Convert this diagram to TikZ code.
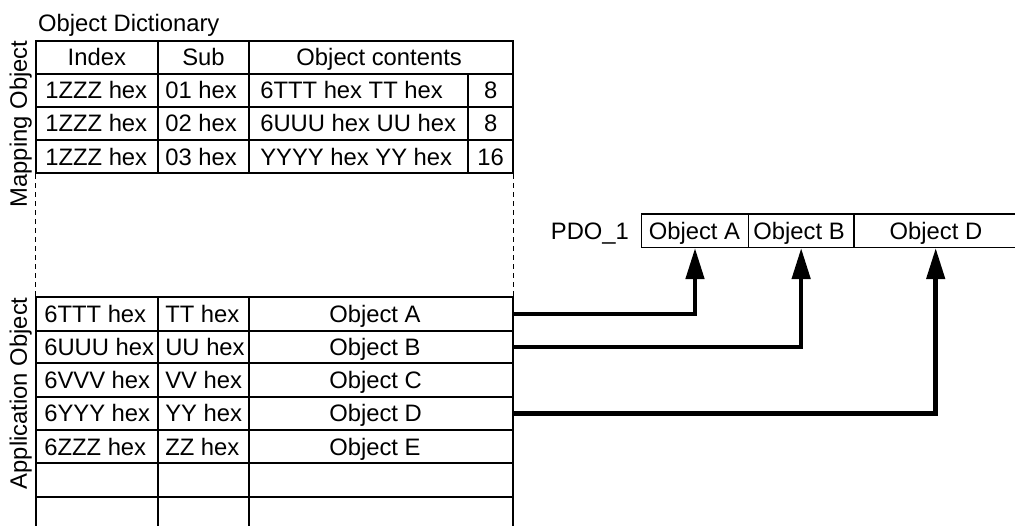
\documentclass[tikz,border=0pt]{standalone}
\usepackage{fontspec}
\setmainfont{Liberation Sans}
\usetikzlibrary{arrows.meta,fit}
\begin{document}
\begin{tikzpicture}[x=1pt,y=-1pt,
  grid/.style={draw, line width=1.8pt, inner sep=0pt},
  pdocell/.style={draw, line width=1.5pt, inner sep=0pt},
  txt/.style={inner sep=0pt, text height=17pt, text depth=0pt, font=\fontsize{23.8}{28}\selectfont},
  conn/.style={line width=4.5pt, -{Triangle[length=31pt,width=18pt]}},
  dashline/.style={line width=1pt, dash pattern=on 5pt off 4pt}]
\useasboundingbox (0,0) rectangle (1015,526);

% title
\node[txt, anchor=base west, text height=, text depth=] (title) at (38,31.5) {Object Dictionary};

% ---- mapping object table
\node[grid, fit={(36,40.7) (157.7,74)}] (h1) {};
\node[grid, fit={(157.7,40.7) (249.3,74)}] (h2) {};
\node[grid, fit={(249.3,40.7) (513,74)}] (h3) {};
\node[txt] at (h1.center) {Index};
\node[txt] at (h2.center) {Sub};
\node[txt] at ([xshift=-2pt]h3.center) {Object contents};

\foreach \i/\ya/\yb/\ta/\tb/\tc/\td in {
  1/74/106.7/1ZZZ hex/01 hex/6TTT hex TT hex/8,
  2/106.7/140/1ZZZ hex/02 hex/6UUU hex UU hex/8,
  3/140/173.3/1ZZZ hex/03 hex/YYYY hex YY hex/16}{
  \node[grid, fit={(36,\ya) (157.7,\yb)}] (m\i1) {};
  \node[grid, fit={(157.7,\ya) (249.3,\yb)}] (m\i2) {};
  \node[grid, fit={(249.3,\ya) (468.3,\yb)}] (m\i3) {};
  \node[grid, fit={(468.3,\ya) (513,\yb)}] (m\i4) {};
  \node[txt, anchor=west] at ([xshift=10pt]m\i1.west) {\ta};
  \node[txt, anchor=west] at ([xshift=8.3pt]m\i2.west) {\tb};
  \node[txt, anchor=west] at ([xshift=11.7pt]m\i3.west) {\tc};
  \node[txt] at (m\i4.center) {\td};
}

% ---- application object table
\foreach \i/\ya/\yb/\ta/\tb/\tc in {
  1/297.3/330.7/6TTT hex/TT hex/Object A,
  2/330.7/363.3/6UUU hex/UU hex/Object B,
  3/363.3/396.7/6VVV hex/VV hex/Object C,
  4/396.7/430/6YYY hex/YY hex/Object D,
  5/430/463.3/6ZZZ hex/ZZ hex/Object E,
  6/463.3/496.7/{}/{}/{},
  7/496.7/534/{}/{}/{}}{
  \node[grid, fit={(36,\ya) (157.7,\yb)}] (a\i1) {};
  \node[grid, fit={(157.7,\ya) (249.3,\yb)}] (a\i2) {};
  \node[grid, fit={(249.3,\ya) (513,\yb)}] (a\i3) {};
  \node[txt, anchor=west] at ([xshift=9pt]a\i1.west) {\ta};
  \node[txt, anchor=west] at ([xshift=8.3pt]a\i2.west) {\tb};
  \node[txt, anchor=west] at ([xshift=80.7pt]a\i3.west) {\tc};
}

% dashed continuation
\draw[dashline] (m31.south west) -- (a11.north west);
\draw[dashline] (m34.south east) -- (a13.north east);

% side labels
\node[txt, rotate=90, anchor=base, text height=, text depth=] (maplbl) at (27,124) {Mapping Object};
\node[txt, rotate=90, anchor=base, text height=, text depth=] (applbl) at (27,393.3) {Application Object};

% ---- PDO
\node[txt, anchor=west] (pdo) at (550.7,230.6) {PDO\_1};
\node[pdocell, fit={(641.7,214) (748.3,247.3)}] (pA) {};
\node[pdocell, fit={(748.3,214) (854,247.3)}] (pB) {};
\node[pdocell, fit={(854,214) (1022,247.3)}] (pD) {};
\node[txt, anchor=west] at ([xshift=7.6pt]pA.west) {Object A};
\node[txt, anchor=west] at ([xshift=5.7pt]pB.west) {Object B};
\node[txt] at ([xshift=-2pt]pD.center) {Object D};

% connectors
\draw[conn] (a13.east) -| (pA.south);
\draw[conn] (a23.east) -| (pB.south);
\draw[conn] (a43.east) -| ([xshift=-2.3pt]pD.south);
\end{tikzpicture}
\end{document}
